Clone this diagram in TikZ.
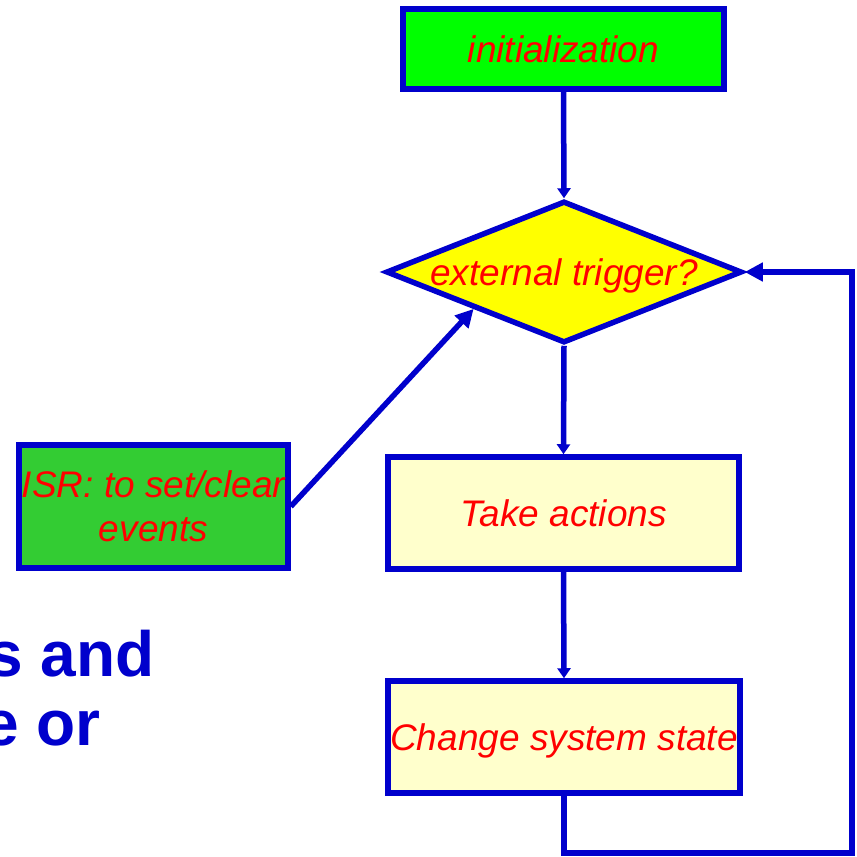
\documentclass[tikz,border=0pt]{standalone}
\usepackage{fontspec}
\setmainfont{Liberation Sans}
\usetikzlibrary{shapes.geometric,arrows.meta}
\definecolor{lineblue}{RGB}{0,0,204}
\definecolor{txtred}{RGB}{255,0,0}
\definecolor{initgreen}{RGB}{0,255,0}
\definecolor{isrgreen}{RGB}{51,204,51}
\definecolor{trigyellow}{RGB}{255,255,0}
\definecolor{paleyellow}{RGB}{255,255,204}
\tikzset{
  flow/.style={draw=lineblue, line width=5.5pt, inner sep=0pt, text depth=0pt,
    text=txtred, font=\itshape\fontsize{37}{44}\selectfont, align=center},
  boxnode/.style={flow, rectangle},
  decide/.style={flow, diamond},
  conn/.style={draw=lineblue, line width=5.5pt},
  smallhead/.style={conn, -{Triangle[length=10pt,width=13pt]}},
  bighead/.style={conn, -{Triangle[length=18pt,width=18pt]}},
  bigtext/.style={text=lineblue, font=\bfseries\fontsize{64}{68}\selectfont, inner sep=0pt}
}
\begin{document}
\begin{tikzpicture}[x=1pt,y=-1pt]
\useasboundingbox (0,0) rectangle (857,857);
\fill[white] (0,0) rectangle (857,857);

\node[boxnode, fill=initgreen, minimum width=321pt, minimum height=80pt] (init) at (563.5,49) {initialization};
\node[decide, fill=trigyellow, minimum width=356pt, minimum height=142pt] (trig) at (564,272) {\makebox[0pt]{external trigger?}};
\node[boxnode, fill=paleyellow, minimum width=351pt, minimum height=112pt] (take) at (563.5,513) {Take actions};
\node[boxnode, fill=paleyellow, minimum width=352pt, minimum height=112pt] (chg) at (564,737) {\makebox[0pt]{Change system state}};
\node[boxnode, fill=isrgreen, minimum width=269pt, minimum height=123pt] (isr) at (153.5,506.5) {ISR: to set/clear\\events};

\node[bigtext, anchor=base east] (t1) at (155,676) {s and};
\node[bigtext, anchor=base east] (t2) at (101,745) {e or};

\coordinate (lr) at (852,853);

\draw[smallhead] (init.south) -- (trig.north);
\draw[smallhead] (trig.south) -- (take.north);
\draw[smallhead] (take.south) -- (chg.north);
\draw[bighead] (isr.east) -- (trig.south west);
\draw[bighead] (chg.south) |- (lr) |- (trig.east);
\end{tikzpicture}
\end{document}
